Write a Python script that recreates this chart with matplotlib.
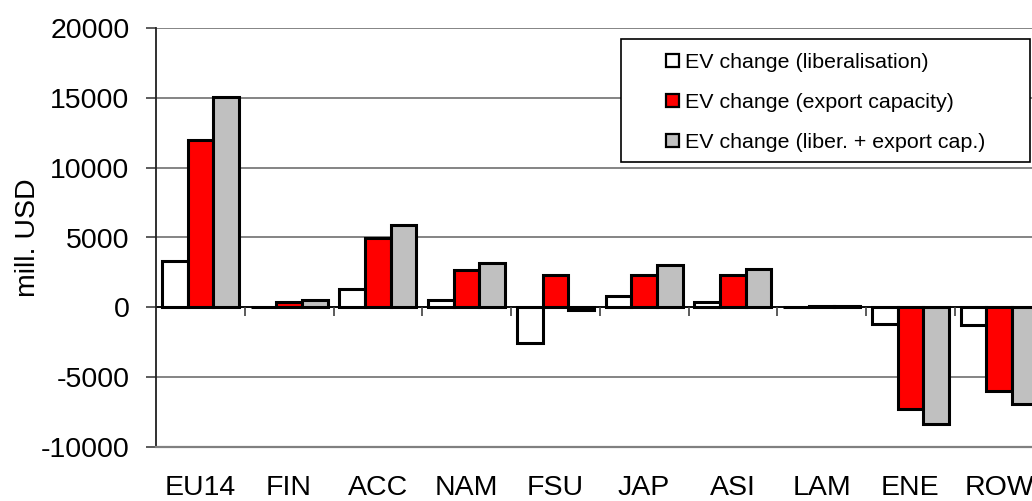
import matplotlib
matplotlib.use("Agg")
import matplotlib.pyplot as plt
from matplotlib.patches import Rectangle
import numpy as np

plt.rcParams['font.family'] = ['Liberation Sans', 'DejaVu Sans']

categories = ["EU14", "FIN", "ACC", "NAM", "FSU", "JAP", "ASI", "LAM", "ENE", "ROW"]
liberalisation = [3300, 50, 1290, 500, -2530, 830, 400, 40, -1200, -1250]
export_capacity = [11960, 400, 4960, 2670, 2290, 2330, 2290, 70, -7250, -6020]
combined = [15040, 520, 5890, 3190, -200, 3030, 2740, 130, -8380, -6900]
series_labels = ["EV change (liberalisation)", "EV change (export capacity)",
                 "EV change (liber. + export cap.)"]
series_colors = ["#FFFFFF", "#FF0000", "#C0C0C0"]
yticks = [-10000, -5000, 0, 5000, 10000, 15000, 20000]

W, H = 1032, 501
fig = plt.figure(figsize=(W / 100, H / 100), dpi=100)
ax_left, ax_right, ax_top, ax_bottom = 156, 1043.5, 28, 447
ax = fig.add_axes([ax_left / W, (H - ax_bottom) / H,
                   (ax_right - ax_left) / W, (ax_bottom - ax_top) / H])

n = len(categories)
x = np.arange(n)
bw = 0.29
for i, (vals, col, lab) in enumerate(zip([liberalisation, export_capacity, combined],
                                         series_colors, series_labels)):
    ax.bar(x + (i - 1) * bw, vals, width=bw, color=col, edgecolor="black",
           linewidth=2.2, label=lab, zorder=3)

ax.set_xlim(-0.5, n - 0.5)
ax.set_ylim(yticks[0], yticks[-1])
ax.set_yticks(yticks)
ax.set_yticklabels([str(v) for v in yticks])
ax.yaxis.grid(True, color="#707070", linewidth=1.2, zorder=0)
ax.set_axisbelow(True)

# zero line and category separators
ax.axhline(0, color="black", linewidth=1.3, zorder=2)
sep_len = 650
ax.vlines(x[:-1] + 0.5, -sep_len, 0, color="#404040", linewidth=1.2, zorder=2)

for s in ["top", "right"]:
    ax.spines[s].set_visible(False)
ax.spines["bottom"].set_color("#808080")
ax.spines["bottom"].set_linewidth(1.6)
ax.spines["left"].set_color("#202020")
ax.spines["left"].set_linewidth(1.3)

ax.set_xticks(x)
ax.set_xticklabels(categories)
ax.tick_params(axis="x", length=0, pad=20, labelsize=20.5)
ax.tick_params(axis="y", length=7, width=1.2, color="#404040", pad=12, labelsize=20.5)
ax.set_ylabel("mill. USD", fontsize=20.5, labelpad=0)

# legend frame
lx0, lx1 = (621 - ax_left) / (ax_right - ax_left), (1030 - ax_left) / (ax_right - ax_left)
ly0, ly1 = (ax_bottom - 162) / (ax_bottom - ax_top), (ax_bottom - 39) / (ax_bottom - ax_top)
ax.add_patch(Rectangle((lx0, ly0), lx1 - lx0, ly1 - ly0, transform=ax.transAxes,
                       facecolor="white", edgecolor="black", linewidth=1.2,
                       zorder=4, clip_on=False))
leg = ax.legend(loc="upper left",
                bbox_to_anchor=((666 - ax_left) / (ax_right - ax_left),
                                (ax_bottom - 53) / (ax_bottom - ax_top)),
                frameon=False, fontsize=15.4, borderpad=0, borderaxespad=0,
                handlelength=0.6, handleheight=0.6, handletextpad=0.3,
                labelspacing=0.98)
leg.set_zorder(5)
for h in leg.legend_handles:
    h.set_linewidth(1.6)

fig.savefig("out.png", dpi=100)
